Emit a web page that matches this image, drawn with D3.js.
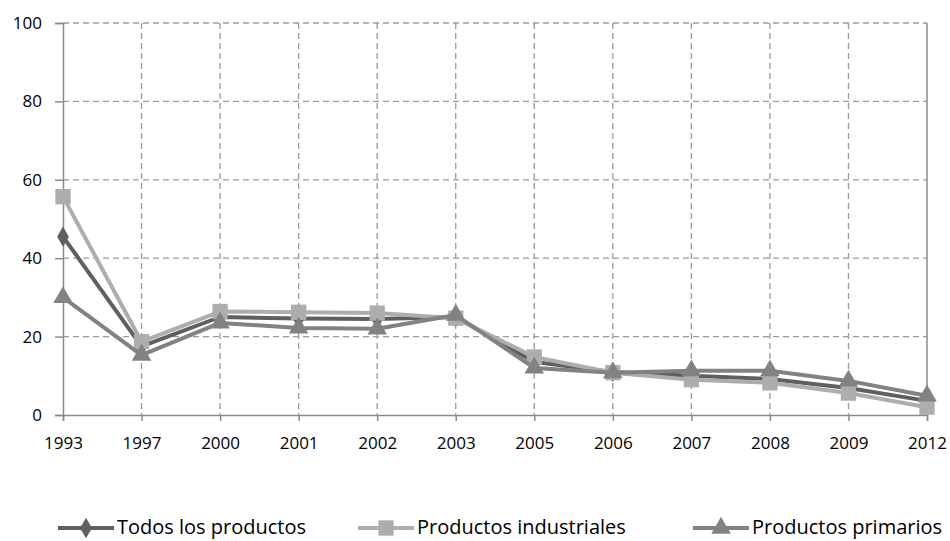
<!DOCTYPE html>
<html>
<head>
<meta charset="utf-8">
<script src="https://cdn.jsdelivr.net/npm/d3@7"></script>
<style>
  body { margin: 0; background: #fff; }
  text { font-family: "Open Sans", "Liberation Sans", sans-serif; fill: #000; }
</style>
</head>
<body>
<svg id="chart"></svg>
<script>
const years = ['1993', '1997', '2000', '2001', '2002', '2003', '2005', '2006', '2007', '2008', '2009', '2012'];
const todos = [45.5, 17.5, 25, 24.6, 24.5, 25, 13.5, 11, 10, 9.2, 6.9, 3.6];
const industriales = [55.7, 18.7, 26.4, 26.2, 26, 24.7, 14.8, 10.8, 9, 8.2, 5.6, 2];
const primarios = [30, 15.3, 23.5, 22.2, 22, 25.5, 12, 10.8, 11.3, 11.3, 8.7, 4.9];
const yTicks = [0, 20, 40, 60, 80, 100];
const seriesNames = ['Todos los productos', 'Productos industriales', 'Productos primarios'];

const width = 950, height = 541;
const margin = { top: 23, right: 23, bottom: 126, left: 63 };
const w = width - margin.left - margin.right;
const h = height - margin.top - margin.bottom;

const svg = d3.select('#chart').attr('width', width).attr('height', height);
const chart = svg.append('g').attr('transform', `translate(${margin.left},${margin.top})`);

const x = d3.scalePoint().domain(years).range([0, w]);
const y = d3.scaleLinear().domain([0, 100]).range([h, 0]);

// grid
chart.selectAll('.hgrid').data(yTicks.filter(d => d > 0)).join('line')
  .attr('x1', 0).attr('x2', w)
  .attr('y1', d => y(d)).attr('y2', d => y(d))
  .attr('stroke', '#9a9a9a').attr('stroke-width', 1.3).attr('stroke-dasharray', '6,4');
chart.selectAll('.vgrid').data(years.slice(1, -1)).join('line')
  .attr('x1', d => x(d)).attr('x2', d => x(d))
  .attr('y1', 0).attr('y2', h)
  .attr('stroke', '#9a9a9a').attr('stroke-width', 1.3).attr('stroke-dasharray', '6,4');

// axes
const xAxis = d3.axisBottom(x).tickSize(6).tickPadding(16);
const yAxis = d3.axisLeft(y).tickValues(yTicks).tickSize(8).tickPadding(13);
const xg = chart.append('g').attr('transform', `translate(0,${h})`).call(xAxis);
const yg = chart.append('g').call(yAxis);
chart.append('line').attr('x1', w).attr('x2', w).attr('y1', 0).attr('y2', h)
  .attr('stroke', '#8a8a8a').attr('stroke-width', 1.5);
[xg, yg].forEach(g => {
  g.select('.domain').attr('stroke', '#8a8a8a').attr('stroke-width', 1.5);
  g.selectAll('.tick line').attr('stroke', '#8a8a8a').attr('stroke-width', 1.5);
  g.selectAll('.tick text').attr('font-size', 17).attr('fill', '#000')
    .style('font-family', '"Open Sans", "Liberation Sans", sans-serif');
});

const series = [
  { name: seriesNames[0], values: todos, color: '#5f5f5f', symbol: d3.symbolDiamond, size: 120 },
  { name: seriesNames[1], values: industriales, color: '#adadad', symbol: d3.symbolSquare, size: 235 },
  { name: seriesNames[2], values: primarios, color: '#828282', symbol: d3.symbolTriangle, size: 165 }
];

const line = d3.line().x((d, i) => x(years[i])).y(d => y(d));

series.forEach(s => {
  chart.append('path').datum(s.values)
    .attr('fill', 'none').attr('stroke', s.color).attr('stroke-width', 4)
    .attr('stroke-linejoin', 'round')
    .attr('d', line);
  chart.selectAll(null).data(s.values).join('path')
    .attr('transform', (d, i) => `translate(${x(years[i])},${y(d)})`)
    .attr('d', d3.symbol().type(s.symbol).size(s.size))
    .attr('fill', s.color);
});

// legend
const legendX = [58, 358, 693];
const legend = svg.append('g').attr('transform', 'translate(0,528)');
series.forEach((s, i) => {
  const g = legend.append('g').attr('transform', `translate(${legendX[i]},0)`);
  g.append('line').attr('x1', 0).attr('x2', 56).attr('y1', 0).attr('y2', 0)
    .attr('stroke', s.color).attr('stroke-width', 4);
  g.append('path').attr('transform', 'translate(28,0)')
    .attr('d', d3.symbol().type(s.symbol).size(s.size)).attr('fill', s.color);
  g.append('text').attr('x', 59).attr('y', 6).attr('font-size', 20).text(s.name);
});
</script>
</body>
</html>
